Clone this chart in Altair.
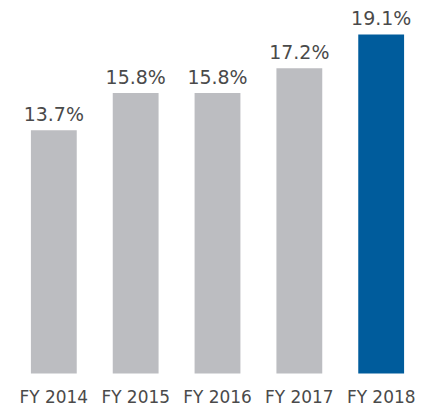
import altair as alt
import pandas as pd

years = ["FY 2014", "FY 2015", "FY 2016", "FY 2017", "FY 2018"]
values = [13.7, 15.8, 15.8, 17.2, 19.1]
labels = ["13.7%", "15.8%", "15.8%", "17.2%", "19.1%"]
highlight = ["no", "no", "no", "no", "yes"]

df = pd.DataFrame({"year": years, "value": values, "label": labels, "hl": highlight})

x = alt.X("year:N", sort=years, title=None,
          scale=alt.Scale(paddingInner=0.44, paddingOuter=0.28),
          axis=alt.Axis(domain=False, ticks=False, tickSize=0, labelAngle=0,
                        labelFont="DejaVu Sans", labelFontSize=17, labelColor="#4a4a4a",
                        labelBaseline="middle", labelPadding=24, grid=False))
y = alt.Y("value:Q", scale=alt.Scale(domain=[0, 20], nice=False, zero=True), axis=None)

bars = alt.Chart(df).mark_bar().encode(
    x=x, y=y,
    color=alt.Color("hl:N", scale=alt.Scale(domain=["no", "yes"], range=["#bcbdc1", "#005c9c"]), legend=None),
)
text = alt.Chart(df).mark_text(dy=-9, baseline="alphabetic", font="DejaVu Sans", fontSize=19,
                               color="#4a4a4a").encode(x=x, y=y, text="label:N")

chart = (bars + text).properties(
    width=420, height=356,
    autosize=alt.AutoSizeParams(type="none"),
    padding={"left": 0, "top": 10, "right": 0, "bottom": 34},
).configure_view(stroke=None)

chart.save("out.html", embed_options={"renderer": "svg", "actions": False})
